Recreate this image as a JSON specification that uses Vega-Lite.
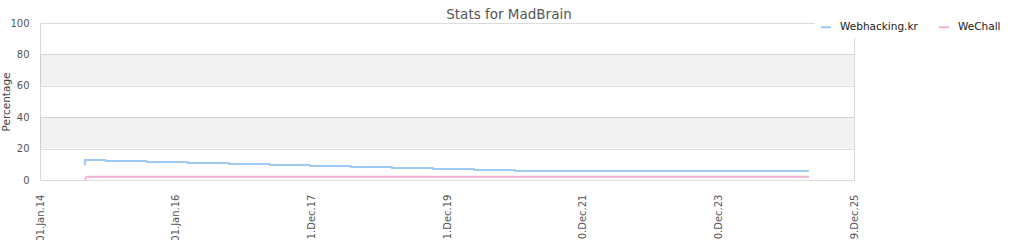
{
  "$schema": "https://vega.github.io/schema/vega-lite/v6.json",
  "width": 814,
  "height": 157,
  "autosize": {"type": "none"},
  "padding": {"left": 40, "top": 23, "right": 170, "bottom": 60},
  "title": {"text": "Stats for MadBrain", "frame": "group", "anchor": "middle", "dx": 62, "offset": -5, "fontSize": 13.5, "fontWeight": "normal", "color": "#555"},
  "config": {
    "font": "DejaVu Sans",
    "view": {"stroke": "#d9d9d9"},
    "axisX": {"grid": false, "domain": false, "ticks": false, "tickSize": 0, "labelAngle": -90, "labelPadding": 14, "labelFontSize": 10, "labelColor": "#555", "labelFlush": false, "labelOverlap": false},
    "axisY": {"grid": true, "gridColor": "#dcdcdc", "domain": false, "ticks": false, "tickSize": 0, "tickCount": 5, "labelPadding": 11, "labelFontSize": 10, "labelColor": "#555", "titleFontSize": 10.5, "titleFontWeight": "normal", "titleColor": "#444", "titlePadding": -2}
  },
  "datasets": {
    "bands": [{"lo": 20, "hi": 40}, {"lo": 60, "hi": 80}],
    "stats": [
      {"site": "Webhacking.kr", "date": "2014-08-30", "pct": 9.3},
      {"site": "Webhacking.kr", "date": "2014-08-31", "pct": 12.7},
      {"site": "Webhacking.kr", "date": "2014-12-19", "pct": 12.7},
      {"site": "Webhacking.kr", "date": "2014-12-20", "pct": 12.1},
      {"site": "Webhacking.kr", "date": "2015-07-28", "pct": 12.1},
      {"site": "Webhacking.kr", "date": "2015-07-29", "pct": 11.5},
      {"site": "Webhacking.kr", "date": "2016-03-05", "pct": 11.5},
      {"site": "Webhacking.kr", "date": "2016-03-06", "pct": 10.8},
      {"site": "Webhacking.kr", "date": "2016-10-13", "pct": 10.8},
      {"site": "Webhacking.kr", "date": "2016-10-14", "pct": 10.2},
      {"site": "Webhacking.kr", "date": "2017-05-22", "pct": 10.2},
      {"site": "Webhacking.kr", "date": "2017-05-23", "pct": 9.6},
      {"site": "Webhacking.kr", "date": "2017-12-23", "pct": 9.6},
      {"site": "Webhacking.kr", "date": "2017-12-24", "pct": 8.9},
      {"site": "Webhacking.kr", "date": "2018-07-31", "pct": 8.9},
      {"site": "Webhacking.kr", "date": "2018-08-01", "pct": 8.3},
      {"site": "Webhacking.kr", "date": "2019-03-09", "pct": 8.3},
      {"site": "Webhacking.kr", "date": "2019-03-10", "pct": 7.6},
      {"site": "Webhacking.kr", "date": "2019-10-16", "pct": 7.6},
      {"site": "Webhacking.kr", "date": "2019-10-17", "pct": 7.0},
      {"site": "Webhacking.kr", "date": "2020-05-23", "pct": 7.0},
      {"site": "Webhacking.kr", "date": "2020-05-24", "pct": 6.4},
      {"site": "Webhacking.kr", "date": "2020-12-30", "pct": 6.4},
      {"site": "Webhacking.kr", "date": "2020-12-31", "pct": 5.7},
      {"site": "Webhacking.kr", "date": "2025-05-01", "pct": 5.7},
      {"site": "WeChall", "date": "2014-08-29", "pct": 0.3},
      {"site": "WeChall", "date": "2014-09-09", "pct": 2.0},
      {"site": "WeChall", "date": "2025-05-01", "pct": 2.0}
    ]
  },
  "layer": [
    {
      "data": {"name": "bands"},
      "mark": {"type": "rect", "fill": "#000", "fillOpacity": 0.05},
      "encoding": {
        "y": {"field": "lo", "type": "quantitative", "scale": {"domain": [0, 100], "nice": false}, "title": "Percentage"},
        "y2": {"field": "hi"}
      }
    },
    {
      "data": {"name": "stats"},
      "mark": {"type": "line", "strokeWidth": 2, "interpolate": "linear"},
      "encoding": {
        "x": {
          "field": "date", "type": "temporal",
          "scale": {"type": "utc", "nice": false, "domain": [{"year": 2014, "month": 1, "date": 1, "utc": true}, {"year": 2025, "month": 12, "date": 29, "utc": true}]},
          "axis": {
            "title": null,
            "values": [
              {"year": 2014, "month": 1, "date": 1, "utc": true},
              {"year": 2016, "month": 1, "date": 1, "utc": true},
              {"year": 2017, "month": 12, "date": 31, "utc": true},
              {"year": 2019, "month": 12, "date": 31, "utc": true},
              {"year": 2021, "month": 12, "date": 30, "utc": true},
              {"year": 2023, "month": 12, "date": 30, "utc": true},
              {"year": 2025, "month": 12, "date": 29, "utc": true}
            ],
            "labelExpr": "utcFormat(datum.value, '%d.%b.%y')"
          }
        },
        "y": {"field": "pct", "type": "quantitative", "title": "Percentage"},
        "color": {
          "field": "site", "type": "nominal",
          "scale": {"domain": ["Webhacking.kr", "WeChall"], "range": ["#9dc9f3", "#f4afd4"]},
          "legend": {"title": null, "orient": "none", "legendX": 775, "legendY": -7, "direction": "horizontal", "fillColor": "#ffffff", "padding": 5, "symbolType": "stroke", "symbolStrokeWidth": 2, "symbolSize": 100, "labelFontSize": 10.5, "labelColor": "#222", "labelOffset": 8, "columnPadding": 17}
        }
      }
    }
  ]
}
